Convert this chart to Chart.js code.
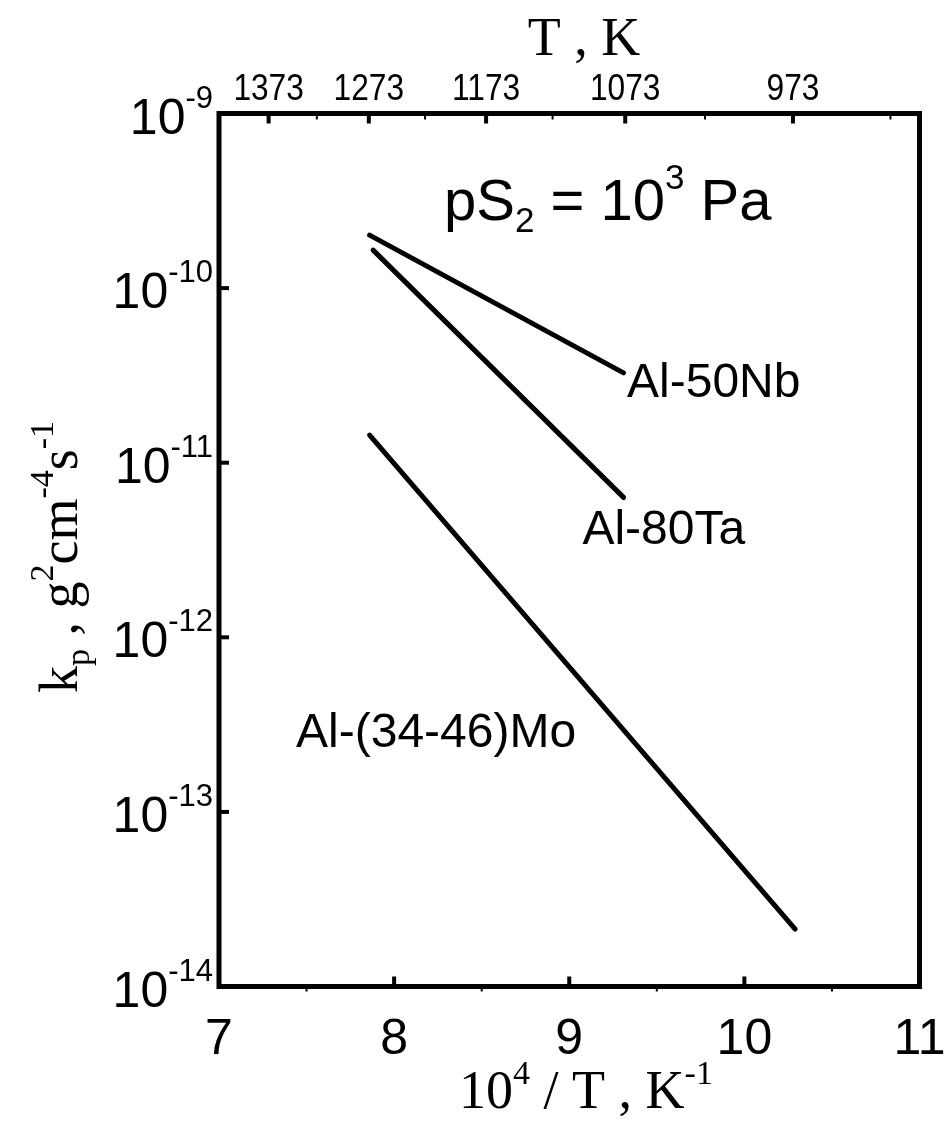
<!DOCTYPE html>
<html><head><meta charset="utf-8">
<script src="https://cdn.jsdelivr.net/npm/chart.js@4.4.1/dist/chart.umd.min.js"></script>
<style>html,body{margin:0;padding:0;background:#fff}canvas{display:block}</style>
</head><body>
<canvas id="c" width="945" height="1122"></canvas>
<script>
// ---- data ----
const seriesNames = ['Al-50Nb', 'Al-80Ta', 'Al-(34-46)Mo'];
const nbX = [7.86, 9.31];
const nbY = [2.01e-10, 3.27e-11];
const taX = [7.88, 9.31];
const taY = [1.65e-10, 6.33e-12];
const moX = [7.86, 10.29];
const moY = [1.44e-11, 2.13e-14];
const xTicks = [7, 8, 9, 10, 11];
const xMinorTicks = [7.5, 8.5, 9.5, 10.5];
const yExponents = [-9, -10, -11, -12, -13, -14];
const topTempTicks = [1373, 1273, 1173, 1073, 973];
const topTempMinor = [1323, 1223, 1123, 1023, 923];

const SANS = "'Liberation Sans', Arial, Helvetica, sans-serif";
const SERIF = "'Liberation Serif', 'Times New Roman', Times, serif";

function pts(xs, ys) { return xs.map((x, i) => ({ x: x, y: ys[i] })); }

function drawRich(ctx, x, y, segs, align) {
  let w = 0;
  segs.forEach(s => { ctx.font = s.font; w += ctx.measureText(s.t).width; });
  let cx = align === 'center' ? x - w / 2 : (align === 'right' ? x - w : x);
  ctx.textAlign = 'left';
  ctx.textBaseline = 'alphabetic';
  segs.forEach(s => {
    ctx.font = s.font;
    ctx.fillText(s.t, cx, y + (s.dy || 0));
    cx += ctx.measureText(s.t).width;
  });
}

const decor = {
  id: 'decor',
  afterDatasetsDraw(chart) {
    const { ctx, chartArea: a, scales } = chart;
    const x = scales.x, y = scales.y, x2 = scales.x2;
    ctx.save();
    ctx.fillStyle = '#000';
    ctx.strokeStyle = '#000';
    // frame
    ctx.lineWidth = 5;
    ctx.lineJoin = 'miter';
    ctx.strokeRect(a.left, a.top, a.right - a.left, a.bottom - a.top);
    const seg = (x1, y1, xe, ye, w) => { ctx.lineWidth = w; ctx.beginPath(); ctx.moveTo(x1, y1); ctx.lineTo(xe, ye); ctx.stroke(); };
    // bottom ticks
    xTicks.forEach(v => { if (v > x.min && v < x.max) { const p = x.getPixelForValue(v); seg(p, a.bottom, p, a.bottom - 10, 4); } });
    xMinorTicks.forEach(v => { const p = x.getPixelForValue(v); seg(p, a.bottom, p, a.bottom + 5, 2); });
    // top ticks (temperature) + condensed labels
    topTempTicks.forEach(T => {
      const p = x2.getPixelForValue(1e4 / T);
      seg(p, a.top, p, a.top + 10, 4);
      ctx.save();
      ctx.translate(p, 100);
      ctx.scale(0.88, 1);
      ctx.font = '36px ' + SANS;
      ctx.textAlign = 'center';
      ctx.textBaseline = 'alphabetic';
      ctx.fillText(String(T), 0, 0);
      ctx.restore();
    });
    topTempMinor.forEach(T => { const p = x2.getPixelForValue(1e4 / T); seg(p, a.top, p, a.top + 6, 2); });
    // left ticks + labels
    yExponents.forEach(e => {
      const p = y.getPixelForValue(Math.pow(10, e));
      if (e !== -9 && e !== -14) seg(a.left, p, a.left + 10, p, 4);
      drawRich(ctx, 213, p + 20, [
        { t: '10', font: '50px ' + SANS },
        { t: String(e), font: '31px ' + SANS, dy: -26 }
      ], 'right');
    });
    // axis titles
    drawRich(ctx, 584, 55, [{ t: 'T , K', font: '54px ' + SERIF }], 'center');
    drawRich(ctx, 586, 1108, [
      { t: '10', font: '54px ' + SERIF },
      { t: '4', font: '34px ' + SERIF, dy: -24 },
      { t: ' / T , K', font: '54px ' + SERIF },
      { t: '-1', font: '34px ' + SERIF, dy: -24 }
    ], 'center');
    ctx.save();
    ctx.translate(77, 557);
    ctx.rotate(-Math.PI / 2);
    drawRich(ctx, 0, 0, [
      { t: 'k', font: '54px ' + SERIF },
      { t: 'p', font: '34px ' + SERIF, dy: 12 },
      { t: ' , g', font: '54px ' + SERIF },
      { t: '2', font: '34px ' + SERIF, dy: -24 },
      { t: 'cm', font: '54px ' + SERIF },
      { t: '-4', font: '34px ' + SERIF, dy: -24 },
      { t: 's', font: '54px ' + SERIF },
      { t: '-1', font: '34px ' + SERIF, dy: -24 }
    ], 'center');
    ctx.restore();
    // annotations
    drawRich(ctx, 444, 220, [
      { t: 'pS', font: '58px ' + SANS },
      { t: '2', font: '35px ' + SANS, dy: 12 },
      { t: ' = 10', font: '58px ' + SANS },
      { t: '3', font: '35px ' + SANS, dy: -31 },
      { t: ' Pa', font: '58px ' + SANS }
    ], 'left');
    const lab = (txt, xv, lv) => drawRich(ctx, x.getPixelForValue(xv), y.getPixelForValue(Math.pow(10, lv)), [{ t: txt, font: '48px ' + SANS }], 'left');
    lab(seriesNames[0], 9.33, -10.624);
    lab(seriesNames[1], 9.075, -11.466);
    lab(seriesNames[2], 7.44, -12.63);
    ctx.restore();
  }
};

const zeroPadX = s => { s.paddingLeft = 0; s.paddingRight = 0; };

new Chart(document.getElementById('c'), {
  type: 'scatter',
  data: {
    datasets: [
      { label: seriesNames[0], data: pts(nbX, nbY) },
      { label: seriesNames[1], data: pts(taX, taY) },
      { label: seriesNames[2], data: pts(moX, moY) }
    ].map(d => Object.assign(d, {
      showLine: true, borderColor: '#000', backgroundColor: '#000', borderWidth: 5,
      pointRadius: 0, borderCapStyle: 'round', xAxisID: 'x', yAxisID: 'y'
    }))
  },
  options: {
    responsive: false,
    devicePixelRatio: 1,
    animation: false,
    layout: { padding: { left: 0, right: 25.5, top: 0, bottom: 0 } },
    plugins: { legend: { display: false }, tooltip: { enabled: false } },
    scales: {
      x: {
        type: 'linear', position: 'bottom', min: 7, max: 11,
        grid: { display: false, drawTicks: false }, border: { display: false },
        afterBuildTicks: s => { s.ticks = xTicks.map(v => ({ value: v })); },
        ticks: { color: '#000', font: { family: SANS, size: 50 }, padding: 24, autoSkip: false, maxRotation: 0 },
        afterFit: s => { s.height = 135.5; zeroPadX(s); }
      },
      x2: {
        type: 'linear', position: 'top', min: 7, max: 11,
        grid: { display: false, drawTicks: false }, border: { display: false },
        afterBuildTicks: s => { s.ticks = topTempTicks.map(T => ({ value: 1e4 / T })); },
        ticks: { display: false },
        afterFit: s => { s.height = 113.5; zeroPadX(s); }
      },
      y: {
        type: 'logarithmic', position: 'left', min: 1e-14, max: 1e-9,
        grid: { display: false, drawTicks: false }, border: { display: false },
        ticks: { display: false },
        afterFit: s => { s.width = 219; s.paddingTop = 0; s.paddingBottom = 0; }
      }
    }
  },
  plugins: [decor]
});
</script>
</body></html>
